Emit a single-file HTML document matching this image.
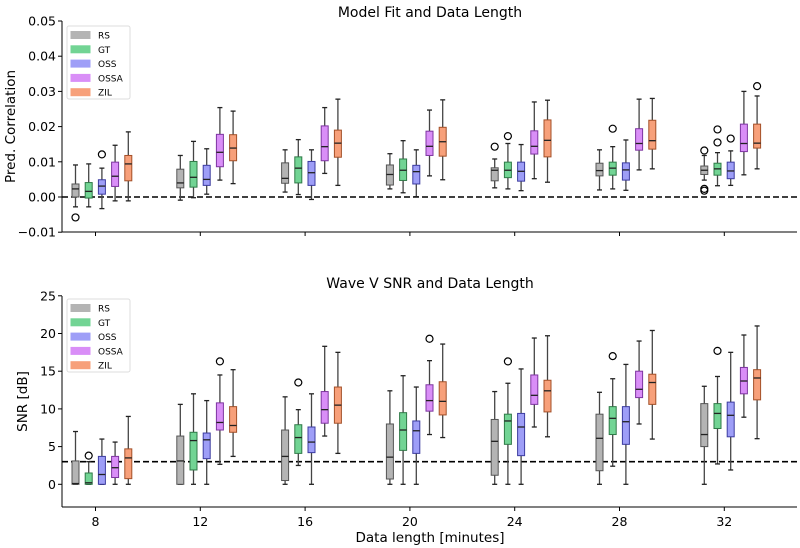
<!DOCTYPE html>
<html><head><meta charset="utf-8"><style>
body{margin:0;background:#fff;}
svg{display:block;font-family:"DejaVu Sans","Liberation Sans",sans-serif;}
</style></head><body>
<svg id="chart" width="800" height="548" viewBox="0 0 800 548"></svg>
<script>
const categories=[8,12,16,20,24,28,32];
const seriesNames=["RS","GT","OSS","OSSA","ZIL"];
const fillColors=["#b4b4b4","#72d494","#9e9ef7","#d98ef7","#f7a07a"];
const edgeColors=["#555","#2f7a47","#3c3ca0","#7d35a0","#a35028"];
// top chart: [whiskerLow,q1,median,q3,whiskerHigh] per category, per series
const corrRS=[[-0.0028,0,0.0023,0.0037,0.0091],[-0.0009,0.0026,0.004,0.0079,0.0118],[0.0014,0.0039,0.0053,0.0097,0.0134],[0.0023,0.0034,0.0064,0.0091,0.0123],[0.0026,0.0046,0.0076,0.0083,0.0108],[0.002,0.006,0.0075,0.0096,0.0134],[0.0048,0.0064,0.0076,0.0088,0.0118]];
const corrGT=[[-0.0028,-0.0003,0.0016,0.0041,0.0094],[-0.0002,0.0028,0.0056,0.0101,0.0158],[0.0007,0.004,0.0082,0.0114,0.0163],[0.0012,0.0047,0.0076,0.0108,0.016],[0.0023,0.0055,0.0076,0.0099,0.0152],[0.0023,0.0062,0.0082,0.0099,0.0143],[0.0032,0.0062,0.008,0.0096,0.0126]];
const corrOSS=[[-0.0033,0.0008,0.0031,0.0049,0.0082],[0.0008,0.0033,0.005,0.009,0.0137],[-0.0007,0.0033,0.0069,0.0101,0.0134],[0.0001,0.0037,0.0072,0.009,0.0134],[0.0018,0.0045,0.0073,0.0099,0.0149],[0.0019,0.0048,0.0077,0.0097,0.0162],[0.0033,0.0052,0.0074,0.0099,0.0131]];
const corrOSSA=[[-0.0011,0.003,0.0059,0.0099,0.0147],[0.0048,0.0086,0.0127,0.0178,0.0254],[0.0067,0.0103,0.0143,0.0202,0.0254],[0.006,0.0118,0.0144,0.0187,0.0247],[0.0052,0.0122,0.0144,0.0188,0.027],[0.0077,0.0133,0.0152,0.0194,0.0278],[0.0063,0.0129,0.0152,0.0207,0.030]];
const corrZIL=[[-0.0011,0.0046,0.0094,0.0118,0.0185],[0.0038,0.0103,0.0139,0.0177,0.0244],[0.0033,0.0113,0.0153,0.019,0.0278],[0.0049,0.0116,0.0157,0.0198,0.0276],[0.0042,0.0114,0.0161,0.0219,0.0275],[0.008,0.0136,0.016,0.0218,0.028],[0.008,0.0139,0.0153,0.0207,0.0287]];
// outliers: [categoryIndex, seriesIndex, value]
const corrOutliers=[[0,0,-0.0058],[0,2,0.0121],[4,0,0.0143],[4,1,0.0173],[5,1,0.0194],[6,0,0.0132],[6,0,0.0023],[6,0,0.0018],[6,1,0.0155],[6,1,0.0192],[6,2,0.0166],[6,4,0.0315]];
const snrRS=[[0,0,0.1,3.1,7.0],[0,0,3.1,6.4,10.6],[0,0.5,3.7,7.2,11.6],[0,0.7,3.6,8.0,12.4],[0,1.2,5.7,8.6,12.3],[0,1.8,6.1,9.3,12.2],[0,5.0,6.6,10.7,13.0]];
const snrGT=[[0,0,0.2,1.5,3.0],[0,1.9,5.8,6.9,12.0],[2.5,4.1,6.2,7.9,9.9],[0,4.5,7.2,9.5,14.4],[0,5.3,8.4,9.3,13.4],[2.4,6.6,8.75,10.3,14.0],[2.7,7.4,9.4,10.7,14.3]];
const snrOSS=[[0,0,1.3,3.7,6.0],[0,3.4,5.9,6.8,11.1],[0,4.2,5.6,7.6,12.0],[0,4.1,7.1,8.4,12.9],[0,3.8,7.6,9.4,15.3],[0,5.3,8.3,10.3,15.9],[1.9,6.3,9.15,10.9,17.5]];
const snrOSSA=[[0,0.9,2.2,3.7,5.6],[2.65,7.2,8.2,10.8,14.5],[6.4,8.1,9.9,12.3,18.3],[6.6,9.7,11.1,13.2,16.4],[7.6,10.6,11.8,14.5,19.4],[8.0,11.5,12.6,15.0,19.0],[8.9,12.0,13.7,15.5,19.8]];
const snrZIL=[[0,0.75,3.5,4.7,9.0],[3.7,6.9,7.8,10.3,15.2],[4.1,8.1,10.5,12.9,17.5],[6.2,9.2,11.0,13.6,18.6],[6.3,9.6,12.4,13.8,19.7],[6.0,10.6,13.5,14.6,20.4],[6.05,11.2,14.1,15.2,21.0]];
const snrOutliers=[[0,1,3.8],[1,3,16.3],[2,1,13.5],[3,3,19.3],[4,1,16.3],[5,1,17.0],[6,1,17.7]];
const corrTicks=[-0.01,0.00,0.01,0.02,0.03,0.04,0.05];
const corrTickLabels=["\u22120.01","0.00","0.01","0.02","0.03","0.04","0.05"];
const snrTicks=[0,5,10,15,20,25];
const snrTickLabels=["0","5","10","15","20","25"];
const xTickLabels=["8","12","16","20","24","28","32"];

const svg=document.getElementById('chart');
const NS="http://www.w3.org/2000/svg";
function mk(tag,attrs,parent){const e=document.createElementNS(NS,tag);for(const k in attrs)e.setAttribute(k,attrs[k]);(parent||svg).appendChild(e);return e;}
const xL=62,xR=797;
const xScale=v=>95.5+(v-8)*(104.8/4);
const offsets=[-20,-6.8,6.4,19.6,32.8];
const bw=7;

function panel(opts){
  const g=mk('g',{});
  
  
  const y=opts.y;
  const ax=mk('line',{x1:xL,y1:opts.yTop,x2:xL,y2:opts.yBot,stroke:'#000','stroke-width':1},g);
  
  const bx=mk('line',{x1:xL,y1:opts.yBot,x2:xR,y2:opts.yBot,stroke:'#000','stroke-width':1},g);
  
  opts.ticks.forEach((t,i)=>{
    mk('line',{x1:xL-4,y1:y(t),x2:xL,y2:y(t),stroke:'#000'},g);
    const tx=mk('text',{x:xL-6,y:y(t)+4.5,'text-anchor':'end','font-size':12.5},g);
    tx.textContent=opts.tickLabels[i];
    
  });
  categories.forEach((c,i)=>{
    mk('line',{x1:xScale(c),y1:opts.yBot,x2:xScale(c),y2:opts.yBot+4,stroke:'#000'},g);
    if(opts.xLabels){
      const tx=mk('text',{x:xScale(c),y:opts.yBot+19,'text-anchor':'middle','font-size':12.5},g);
      tx.textContent=xTickLabels[i];
      
    }
  });
  const rl=mk('line',{x1:xL,y1:y(opts.ref),x2:xR,y2:y(opts.ref),stroke:'#000','stroke-width':1.6,'stroke-dasharray':'6,3'},g);
  
  opts.series.forEach((ser,s)=>{
    ser.forEach((d,i)=>{
      const cx=xScale(categories[i])+offsets[s];
      const bg=mk('g',{},g);
      
      
      mk('line',{x1:cx,y1:y(d[0]),x2:cx,y2:y(d[1]),stroke:'#444','stroke-width':1.3},bg);
      mk('line',{x1:cx,y1:y(d[3]),x2:cx,y2:y(d[4]),stroke:'#444','stroke-width':1.3},bg);
      mk('line',{x1:cx-2.5,y1:y(d[0]),x2:cx+2.5,y2:y(d[0]),stroke:'#222','stroke-width':1.3},bg);
      mk('line',{x1:cx-2.5,y1:y(d[4]),x2:cx+2.5,y2:y(d[4]),stroke:'#222','stroke-width':1.3},bg);
      mk('rect',{x:cx-bw/2,y:y(d[3]),width:bw,height:Math.max(0.5,y(d[1])-y(d[3])),fill:fillColors[s],stroke:edgeColors[s],'stroke-width':1},bg);
      mk('line',{x1:cx-bw/2,y1:y(d[2]),x2:cx+bw/2,y2:y(d[2]),stroke:'#222','stroke-width':1.3},bg);
    });
  });
  opts.outliers.forEach(o=>{
    const c=mk('circle',{cx:xScale(categories[o[0]])+offsets[o[1]],cy:y(o[2]),r:3.5,fill:'none',stroke:'#000','stroke-width':1.2},g);
    
  });
  const tt=mk('text',{x:430,y:opts.titleY,'text-anchor':'middle','font-size':14},g);
  tt.textContent=opts.title;
  
  const yl=mk('text',{x:0,y:0,'text-anchor':'middle','font-size':13.5,transform:`translate(${opts.ylabelX},${(opts.yTop+opts.yBot)/2}) rotate(-90)`},g);
  yl.textContent=opts.ylabel;
  
  const lg=mk('g',{},g);
  
  mk('rect',{x:67,y:opts.legY,width:63,height:73,rx:2,fill:'#fff',stroke:'#ddd'},lg);
  seriesNames.forEach((n,s)=>{
    const e=mk('g',{},lg);
    
    const ry=opts.legY+9+s*14.3;
    mk('rect',{x:71,y:ry-3.5,width:19,height:7,fill:fillColors[s],stroke:fillColors[s]},e);
    const t=mk('text',{x:98,y:ry+3.5,'font-size':9},e);t.textContent=n;
  });
}
panel({name:'model-fit-panel',y:v=>197-v*3520,yTop:21,yBot:232,ticks:corrTicks,tickLabels:corrTickLabels,ref:0,
  series:[corrRS,corrGT,corrOSS,corrOSSA,corrZIL],outliers:corrOutliers,title:'Model Fit and Data Length',titleY:17,
  ylabel:'Pred. Correlation',ylabelX:15,legY:26,xLabels:false});
panel({name:'snr-panel',y:v=>484.3-v*7.54,yTop:296,yBot:507,ticks:snrTicks,tickLabels:snrTickLabels,ref:3,
  series:[snrRS,snrGT,snrOSS,snrOSSA,snrZIL],outliers:snrOutliers,title:'Wave V SNR and Data Length',titleY:288,
  ylabel:'SNR [dB]',ylabelX:27,legY:299,xLabels:true});
const xt=mk('text',{x:430,y:542,'text-anchor':'middle','font-size':13.5});
xt.textContent='Data length [minutes]';


</script>
</body></html>
